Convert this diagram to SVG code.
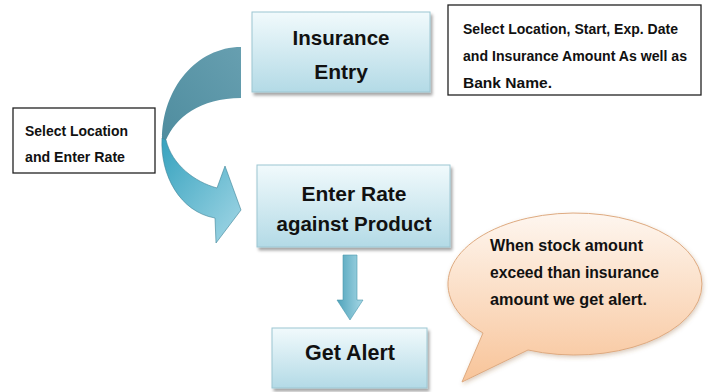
<svg xmlns="http://www.w3.org/2000/svg" width="708" height="392" viewBox="0 0 708 392">
<style>
text{font-family:"Liberation Sans",Arial,sans-serif;font-weight:bold;fill:#111;}
.big{font-size:21px;text-anchor:middle;}
.note{font-size:14.5px;}
.bub{font-size:16.5px;}
.box{fill:url(#boxGrad);stroke:#9cc6d2;stroke-width:1;filter:url(#shadow);}
.notebox{fill:#fff;stroke:#222;stroke-width:1.3;}
</style>
<defs>
<linearGradient id="boxGrad" x1="0" y1="0" x2="0" y2="1">
<stop offset="0" stop-color="#f1fafc"/>
<stop offset="1" stop-color="#b3dae6"/>
</linearGradient>
<linearGradient id="bubGrad" x1="0" y1="0" x2="0" y2="1">
<stop offset="0" stop-color="#fef6ef"/>
<stop offset="1" stop-color="#f8c499"/>
</linearGradient>
<linearGradient id="backGrad" x1="1" y1="0" x2="0" y2="1">
<stop offset="0" stop-color="#679fb0"/>
<stop offset="1" stop-color="#4f8d9f"/>
</linearGradient>
<linearGradient id="frontGrad" x1="0" y1="0" x2="1" y2="1">
<stop offset="0" stop-color="#36a2be"/>
<stop offset="1" stop-color="#a3d7e6"/>
</linearGradient>
<linearGradient id="downGrad" x1="0" y1="0" x2="1" y2="0">
<stop offset="0" stop-color="#4fa3bb"/>
<stop offset="1" stop-color="#a6d7e5"/>
</linearGradient>
<filter id="shadow" x="-10%" y="-10%" width="125%" height="130%">
<feDropShadow dx="2" dy="3" stdDeviation="1.5" flood-color="#000" flood-opacity="0.35"/>
</filter>
<filter id="softShadow" x="-10%" y="-10%" width="125%" height="130%">
<feDropShadow dx="1" dy="2" stdDeviation="2" flood-color="#8a5a30" flood-opacity="0.3"/>
</filter>
</defs>

<g id="connectors">
<g id="curved-arrow">
<path d="M241,47 C197,47 162,88 162,140 L166,140 C175,118 200,98 241,98 Z" fill="url(#backGrad)"/>
<path d="M162,138 C160,175 180,212 215,218 L216,243 L241,210 L225,166 L217,188 C195,182 172,165 166,140 Z" fill="url(#frontGrad)" stroke="#3d8397" stroke-width="0.6"/>
</g>
<path id="down-arrow" d="M343,255 L357,255 L357,300 L363,300 L350,320 L337,300 L343,300 Z" fill="url(#downGrad)" stroke="#4a97ad" stroke-width="0.6"/>
</g>

<g id="insurance-entry">
<rect class="box" x="252" y="12" width="178" height="80"/>
<text class="big" x="341" y="45" textLength="97" lengthAdjust="spacingAndGlyphs">Insurance</text>
<text class="big" x="341" y="79">Entry</text>
</g>

<g id="note-top">
<rect class="notebox" x="448" y="5" width="253" height="90"/>
<text class="note" x="463" y="34" textLength="215" lengthAdjust="spacingAndGlyphs">Select Location, Start, Exp. Date</text>
<text class="note" x="463" y="61" textLength="224" lengthAdjust="spacingAndGlyphs">and Insurance Amount As well as</text>
<text class="note" x="463" y="88" textLength="89" lengthAdjust="spacingAndGlyphs">Bank Name.</text>
</g>

<g id="note-left">
<rect class="notebox" x="13" y="108" width="142" height="65"/>
<text class="note" x="25" y="136" textLength="103" lengthAdjust="spacingAndGlyphs">Select Location</text>
<text class="note" x="25" y="162" textLength="100" lengthAdjust="spacingAndGlyphs">and Enter Rate</text>
</g>

<g id="enter-rate">
<rect class="box" x="257" y="165" width="193" height="82"/>
<text class="big" x="354" y="201" textLength="105" lengthAdjust="spacingAndGlyphs">Enter Rate</text>
<text class="big" x="354" y="231" textLength="155" lengthAdjust="spacingAndGlyphs">against Product</text>
</g>

<g id="get-alert">
<rect class="box" x="272" y="328" width="155" height="60"/>
<text class="big" x="350" y="360" style="font-size:22px" textLength="90" lengthAdjust="spacingAndGlyphs">Get Alert</text>
</g>

<g id="alert-bubble">
<path d="M483,333 A127,71 0 1 1 528,350 L462,382 Z" fill="url(#bubGrad)" stroke="#deaa80" stroke-width="1" filter="url(#softShadow)"/>
<text class="bub" x="490" y="251" textLength="153" lengthAdjust="spacingAndGlyphs">When stock amount</text>
<text class="bub" x="490" y="278" textLength="169" lengthAdjust="spacingAndGlyphs">exceed than insurance</text>
<text class="bub" x="490" y="305" textLength="157" lengthAdjust="spacingAndGlyphs">amount we get alert.</text>
</g>
</svg>
